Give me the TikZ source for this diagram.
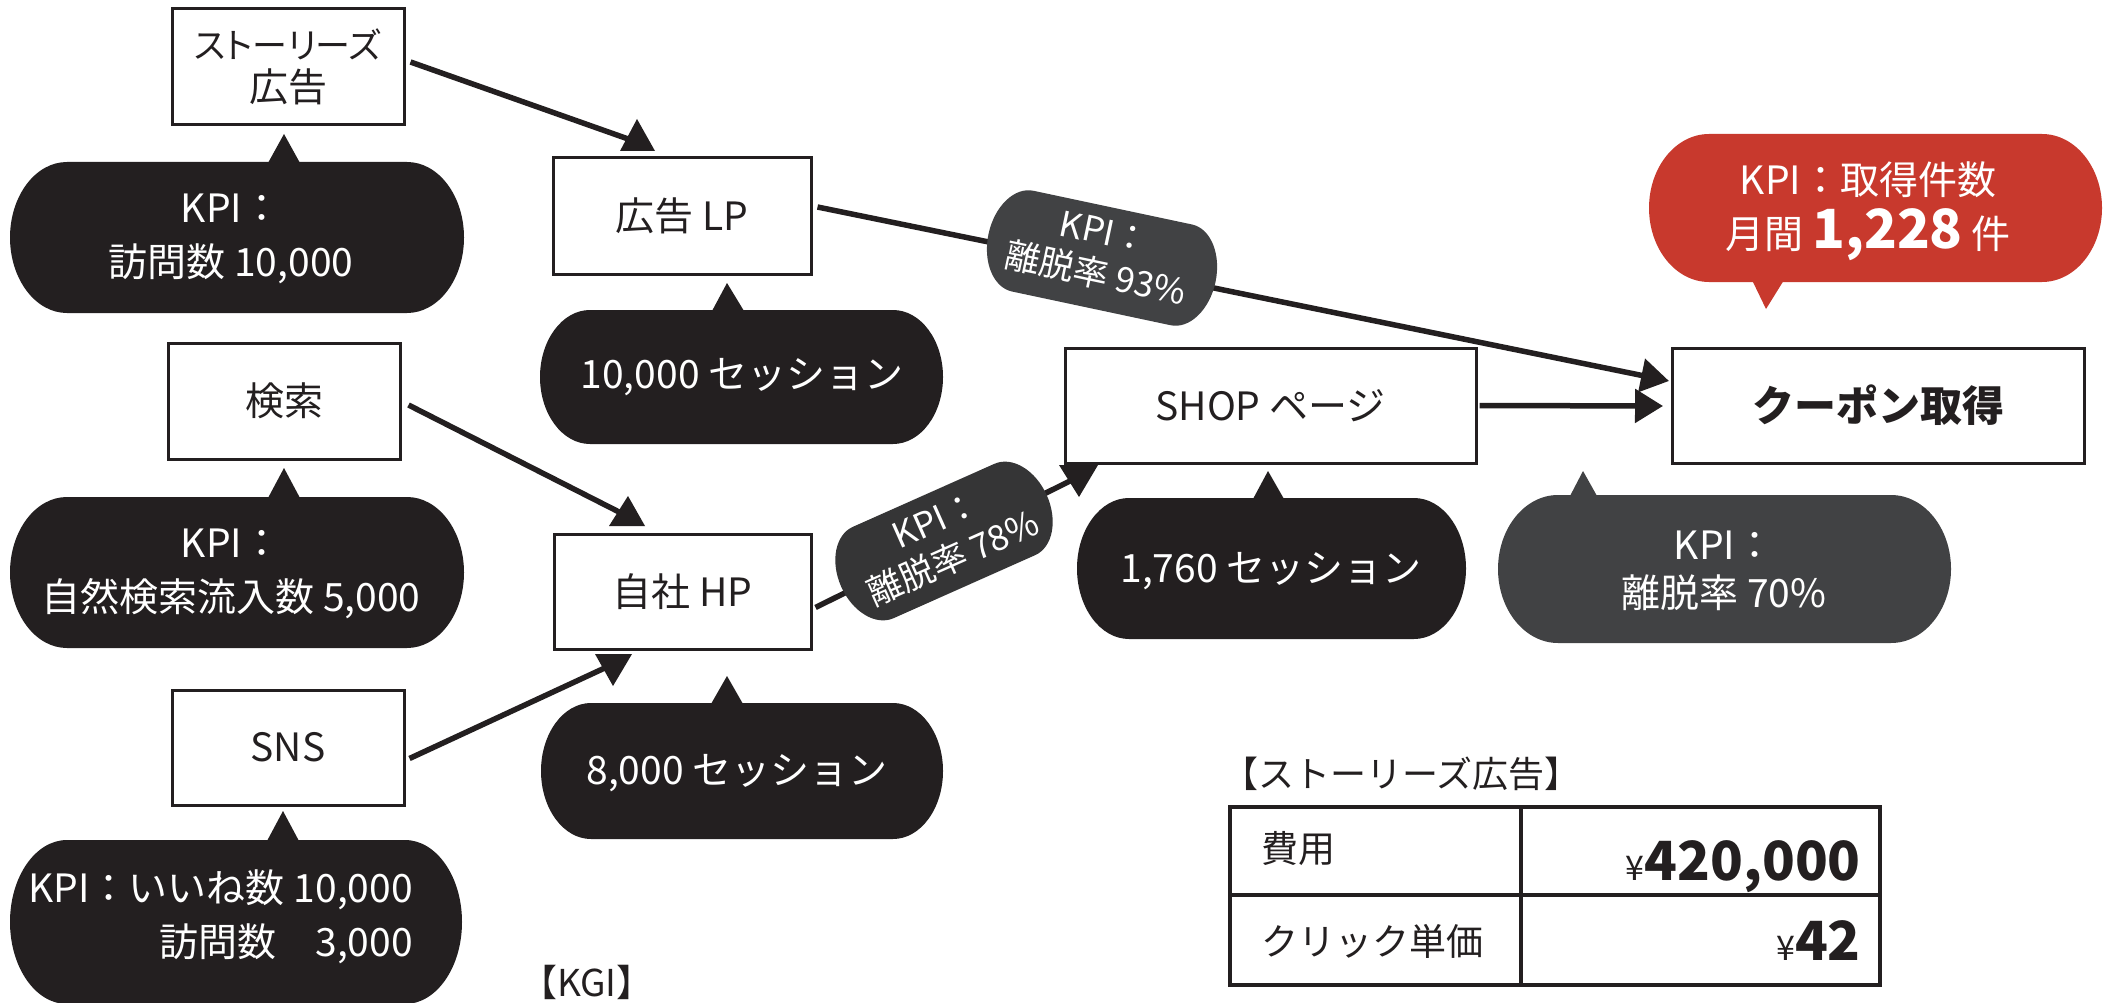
\documentclass[tikz,border=0pt]{standalone}
\usepackage{fontspec}
\setmainfont{Noto Sans CJK JP}
\newfontfamily\jpp[RawFeature=+palt]{Noto Sans CJK JP}
\usetikzlibrary{arrows.meta,calc}
\definecolor{ink}{HTML}{231F20}
\definecolor{gA}{HTML}{414244}
\definecolor{gB}{HTML}{353536}
\definecolor{kred}{HTML}{C8392D}
\newcommand{\fs}[2]{\fontsize{#1pt}{#2pt}\selectfont}
% #1 centre coordinate, #2 colour, #3 width, #4 height, #5 end radius, #6 rotation
\newcommand{\pillat}[6]{%
  \fill[#2, shift={(#1)}, rotate=#6] ({-#3/2+#5},{-#4/2}) -- ({#3/2-#5},{-#4/2})
    arc[start angle=-90, end angle=90, x radius=#5, y radius={#4/2}]
    -- ({-#3/2+#5},{#4/2})
    arc[start angle=90, end angle=270, x radius=#5, y radius={#4/2}] -- cycle;}
\tikzset{
  box/.style={draw=ink, line width=3pt, fill=white, inner sep=0pt, text=ink,
    align=center, font=\fs{39}{47}},
  conn/.style={draw=ink, line width=5.5pt},
  btext/.style={text=white, align=center, inner sep=0pt, font=\fs{39}{54}},
  rtext/.style={text=white, align=center, inner sep=0pt, font=\fs{35}{42}},
  cell/.style={draw=ink, line width=3.5pt, inner sep=0pt},
  ttext/.style={text=ink, inner sep=0pt, font=\fs{37}{40}},
  head/.style={text=ink, inner sep=0pt, font=\fs{36}{40}},
  bigtip/.style={-{Triangle[length=28pt,width=33pt]}},
}
\begin{document}
\begin{tikzpicture}[x=1pt,y=-1pt]
\useasboundingbox (0,0) rectangle (2111,1003);
\fill[white] (0,0) rectangle (2111,1003);

% ---------- boxes ----------
\node[box, minimum width=232pt, minimum height=116pt, font={\jpp\fs{39}{43}}] (stories) at (288,67) {{\fs{35}{43}ストーリーズ}\\広告};
\node[box, minimum width=232pt, minimum height=116pt] (kensaku) at (284,401) {検索};
\node[box, minimum width=232pt, minimum height=115pt] (sns) at (288,747.5) {SNS};
\node[box, minimum width=258pt, minimum height=116pt] (lp) at (682,216) {広告 LP};
\node[box, minimum width=257pt, minimum height=115pt] (hp) at (682.5,591.5) {自社 HP};
\node[box, minimum width=411pt, minimum height=115pt] (shop) at (1270.5,405.5) {SHOP ページ};
\node[box, minimum width=412pt, minimum height=115pt, font=\bfseries\fs{42}{47}] (coupon) at (1878,405.5) {クーポン取得};

% ---------- connectors ----------
\coordinate (t1) at (631,140);
\coordinate (t2) at (623,514);
\coordinate (t3) at (609,666);
\coordinate (t4) at (1669,381);
\coordinate (t5) at (1074,479);
\coordinate (t6) at (1663,406);
\draw[conn] ([shift={(5,-5)}]stories.east) -- (t1);
\draw[conn] ([shift={(7,4)}]kensaku.east) -- (t2);
\draw[conn] ([shift={(4,11)}]sns.east) -- (t3);
\draw[conn, bigtip] ([shift={(5,-9)}]lp.east) -- (t4);
\draw[conn] ([shift={(3,16)}]hp.east) -- (t5);
\draw[conn, bigtip] ([xshift=2pt]shop.east) -- (t6);
% arrow heads
\fill[ink] (620,151) -- (637,119) -- (655,151) -- cycle;
\fill[ink] (609,526) -- (628,496) -- (645,526) -- cycle;
\fill[ink] (595,654) -- (632,654) -- (613,686) -- cycle;
\fill[ink] (1059,465) -- (1098,465) -- (1079,497) -- cycle;

% ---------- black bubbles ----------
\coordinate (b1c) at (237,237.5);
\pillat{b1c}{ink}{454}{151}{57}{0}
\fill[ink] (268,163) -- (284,134) -- (300,163) -- cycle;
\node[btext] (b1) at (231,239) {KPI：\\訪問数 10,000};

\coordinate (b2c) at (237,572.5);
\pillat{b2c}{ink}{454}{151}{57}{0}
\fill[ink] (268,498) -- (284,468) -- (300,498) -- cycle;
\node[btext] (b2) at (231,574) {KPI：\\自然検索流入数 5,000};

\coordinate (b3c) at (236,922);
\pillat{b3c}{ink}{452}{164}{57}{0}
\fill[ink] (267,841) -- (283,811) -- (299,841) -- cycle;
\node[btext, align=right, anchor=east] (b3) at (413,917) {KPI：いいね数 10,000\\訪問数　3,000};

\coordinate (b4c) at (741.5,377);
\pillat{b4c}{ink}{403}{134}{50}{0}
\fill[ink] (712,311) -- (727,283) -- (744,311) -- cycle;
\node[btext] (b4) at (742,377) {10,000 セッション};

\coordinate (b5c) at (742,771);
\pillat{b5c}{ink}{402}{136}{50}{0}
\fill[ink] (711,704) -- (727,676) -- (743,704) -- cycle;
\node[btext] (b5) at (737,773) {8,000 セッション};

\coordinate (b6c) at (1271.5,568.5);
\pillat{b6c}{ink}{389}{141}{52}{0}
\fill[ink] (1253,499) -- (1268,471) -- (1284,499) -- cycle;
\node[btext] (b6) at (1271,571) {1,760 セッション};

% ---------- grey bubbles ----------
\coordinate (b7c) at (1724.5,569);
\pillat{b7c}{gA}{453}{148}{60}{0}
\fill[gA] (1570,496) -- (1583,471) -- (1597,496) -- cycle;
\node[btext, font=\fs{39}{48}] (b7) at (1724,571) {KPI：\\離脱率 70\%};

\coordinate (k93c) at (1102,258);
\pillat{k93c}{gA}{232}{103}{35}{-12}
\node[rtext, rotate=-12] (k93) at (1100,254) {KPI：\\離脱率 93\%};

\coordinate (k78c) at (944,541);
\pillat{k78c}{gB}{225}{100}{35}{24}
\node[rtext, rotate=24] (k78) at (945,540) {KPI：\\離脱率 78\%};

% ---------- red bubble ----------
\coordinate (kgc) at (1875.5,208);
\pillat{kgc}{kred}{453}{148}{60}{0}
\fill[kred] (1752,280) -- (1784,280) -- (1766,309) -- cycle;
\node[btext] (kg) at (1868,211) {KPI：取得件数\\月間 {\bfseries\fs{54}{54}1,228} 件};

% ---------- KGI label ----------
\node[head, font=\fs{37}{40}] (kgi) at (587,982) {【KGI】};

% ---------- table ----------
\node[head, anchor=base west] (thead) at (1222,787) {【ストーリーズ広告】};
\node[cell, minimum width=291pt, minimum height=88pt] (c11) at (1375.5,851) {};
\node[cell, minimum width=359pt, minimum height=88pt] (c12) at (1700.5,851) {};
\node[cell, minimum width=291pt, minimum height=90pt] (c21) at (1375.5,940) {};
\node[cell, minimum width=359pt, minimum height=90pt] (c22) at (1700.5,940) {};
\node[ttext, anchor=base west] (t11) at (1261,862) {費用};
\node[ttext, anchor=base east] (t12) at (1861,880) {\fs{34}{40}¥\bfseries\fs{54}{56}420,000};
\node[ttext, anchor=base west] (t21) at (1261,955) {クリック単価};
\node[ttext, anchor=base east] (t22) at (1861,960) {\fs{34}{40}¥\bfseries\fs{54}{56}42};
\end{tikzpicture}
\end{document}
